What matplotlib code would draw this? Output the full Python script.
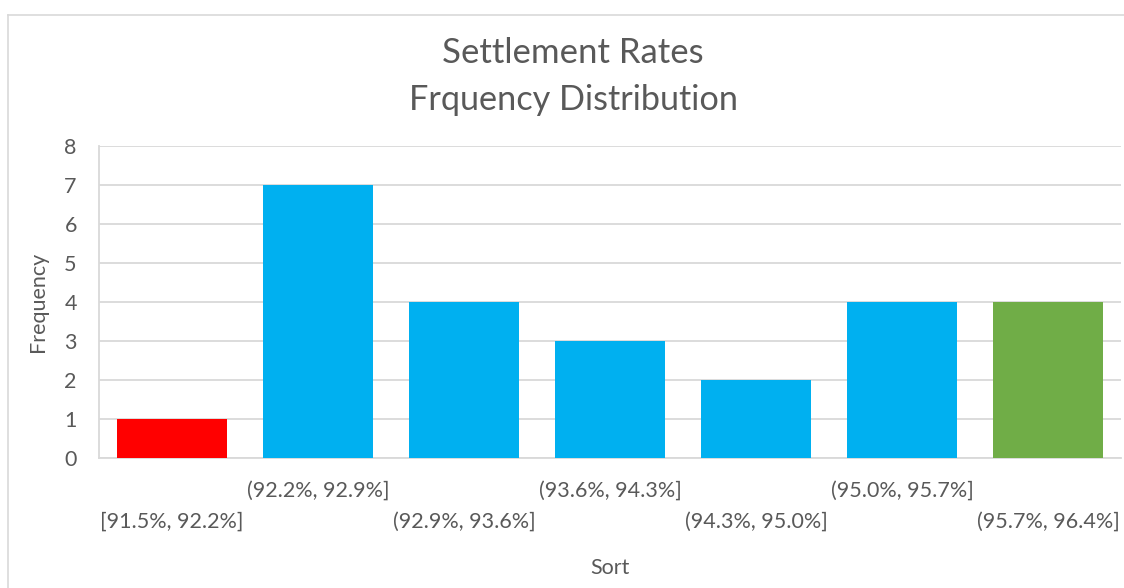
import matplotlib
matplotlib.use("Agg")
import matplotlib.pyplot as plt
from matplotlib.lines import Line2D

categories = ["[91.5%, 92.2%]", "(92.2%, 92.9%]", "(92.9%, 93.6%]", "(93.6%, 94.3%]",
              "(94.3%, 95.0%]", "(95.0%, 95.7%]", "(95.7%, 96.4%]"]
frequency = [1, 7, 4, 3, 2, 4, 4]
colors = ["#FF0000", "#00B0F0", "#00B0F0", "#00B0F0", "#00B0F0", "#00B0F0", "#70AD47"]

plt.rcParams['font.family'] = ['Lato', 'DejaVu Sans']
txt = "#595959"
grid = "#D9D9D9"
fs = 15.5

fig = plt.figure(figsize=(11.24, 5.88), dpi=100)
ax = fig.add_axes([99/1124, 1-458/588, (1121-99)/1124, (458-146)/588])

x = list(range(len(categories)))
ax.bar(x, frequency, width=0.75, color=colors, zorder=3)
ax.set_xlim(-0.5, len(categories) - 0.5)
ax.set_ylim(0, 8)
ax.set_yticks(range(0, 9))
ax.tick_params(axis='y', length=0, labelsize=fs, labelcolor=txt, pad=16)
ax.tick_params(axis='x', length=0)
ax.set_xticks(x)
ax.set_xticklabels([])
ax.yaxis.grid(True, color=grid, linewidth=1.3, zorder=0)
for s in ["top", "right"]:
    ax.spines[s].set_visible(False)
ax.spines["bottom"].set_color(grid)
ax.spines["bottom"].set_linewidth(1.3)
ax.spines["left"].set_color(grid)
ax.spines["left"].set_linewidth(1.3)

for i, lab in enumerate(categories):
    yoff = -0.105 if i % 2 == 1 else -0.205
    ax.text(i, yoff, lab, transform=ax.get_xaxis_transform(), ha='center', va='center',
            fontsize=fs, color=txt)

fig.text(610/1124, 1-568/588, "Sort", ha='center', va='center', fontsize=fs, color=txt)
fig.text(38/1124, 1-302/588, "Frequency", ha='center', va='center', rotation=90,
         fontsize=fs, color=txt)
fig.text(573/1124, 1-53/588, "Settlement Rates", ha='center', va='center', fontsize=25, color=txt)
fig.text(573/1124, 1-100/588, "Frquency Distribution", ha='center', va='center', fontsize=24.7, color=txt)

# outer chart border
fig.add_artist(Line2D([8/1124, 8/1124], [0, 1-15/588], transform=fig.transFigure, color=grid, lw=1.2))
fig.add_artist(Line2D([8/1124, 1], [1-15/588, 1-15/588], transform=fig.transFigure, color=grid, lw=1.2))

fig.savefig("out.png", dpi=100)
